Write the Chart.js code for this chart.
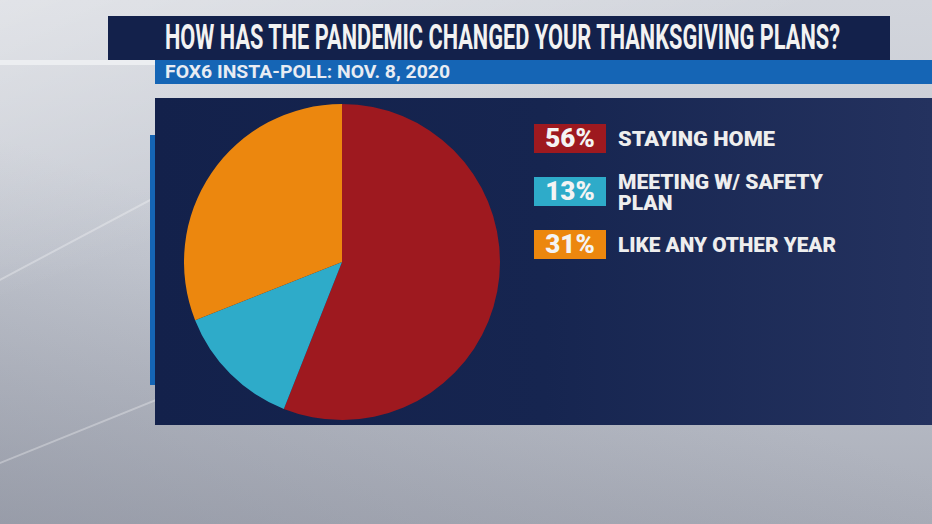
<!DOCTYPE html>
<html>
<head>
<meta charset="utf-8">
<script src="https://cdn.jsdelivr.net/npm/chart.js@4"></script>
<style>
    html, body { margin: 0; padding: 0; }
    body {
        width: 932px; height: 524px; position: relative; overflow: hidden;
        font-family: Roboto, "Liberation Sans", sans-serif;
        background:
            linear-gradient(160deg, rgba(255,255,255,0.35) 0%, rgba(255,255,255,0) 35%),
            linear-gradient(20deg, rgba(120,125,140,0.35) 0%, rgba(120,125,140,0) 45%),
            linear-gradient(180deg, #d2d5dc 0%, #c4c8d1 50%, #a9adb8 100%);
    }
    .stripe { position: absolute; background: rgba(255,255,255,0.3); transform-origin: left top; }
    #titleBar {
        position: absolute; left: 108px; top: 16px; width: 782px; height: 44px;
        background: #13214b;
    }
    #title, #subtitle { position: absolute; white-space: nowrap; transform-origin: left center; }
    #title { color: #f2f2f2; font-weight: 700; font-size: 35px; line-height: 44px; top: 0px; left: 57px; }
    #lightStrip { position: absolute; left: 0; top: 60px; width: 160px; height: 5px; background: #eceef1; }
    #subBar {
        position: absolute; left: 155px; top: 60px; width: 777px; height: 24px;
        background: #1565b5;
    }
    #subtitle { color: #e8ecf3; font-weight: 700; font-size: 19px; line-height: 24px; top: 0px; left: 10px; }
    #sideBar { position: absolute; left: 150px; top: 135px; width: 5px; height: 250px; background: #1565b5; }
    #panel {
        position: absolute; left: 155px; top: 98px; width: 777px; height: 327px;
        background: linear-gradient(90deg, #13214b 0%, #162550 50%, #24325f 100%);
    }
    #pieBox { position: absolute; left: 29px; top: 6px; width: 316px; height: 316px; }
    .item { position: absolute; left: 379px; }
    .box {
        position: absolute; left: 0; top: 0; width: 72px; height: 29px;
        color: #f4f4f4; font-weight: 900; font-size: 26px; line-height: 29px; text-align: center;
    }
    .label {
        position: absolute; left: 84px; color: #eeeeee; font-weight: 900; font-size: 21px;
        line-height: 21px; white-space: nowrap; transform-origin: left top;
    }
</style>
</head>
<body>
<div class="stripe" style="left:-40px;top:300px;width:420px;height:2px;transform:rotate(-28deg)"></div>
<div class="stripe" style="left:-20px;top:470px;width:300px;height:2px;transform:rotate(-22deg)"></div>

<div id="titleBar"><div id="title"></div></div>
<div id="lightStrip"></div>
<div id="subBar"><div id="subtitle"></div></div>
<div id="sideBar"></div>
<div id="panel">
    <div id="pieBox"><canvas id="pie"></canvas></div>
    <div id="legend"></div>
</div>

<script>
const titleText = 'HOW HAS THE PANDEMIC CHANGED YOUR THANKSGIVING PLANS?';
const subtitleText = 'FOX6 INSTA-POLL: NOV. 8, 2020';
const categories = ['STAYING HOME', 'MEETING W/ SAFETY\nPLAN', 'LIKE ANY OTHER YEAR'];
const values = [56, 13, 31];
const colors = ['#9e191f', '#2eabc9', '#ec870e'];

// squeeze text into the width it takes in the graphic
function fitWidth(el, width) {
    const w = el.getBoundingClientRect().width;
    el.style.transform = 'scaleX(' + (width / w) + ')';
}

const title = document.getElementById('title');
title.textContent = titleText;
fitWidth(title, 675);

const subtitle = document.getElementById('subtitle');
subtitle.textContent = subtitleText;
fitWidth(subtitle, 285);

// legend rows
const legend = document.getElementById('legend');
const rowTops = [26, 79, 132];
const labelWidths = [157, 205, 218];
categories.forEach((cat, i) => {
    const item = document.createElement('div');
    item.className = 'item';
    item.style.top = rowTops[i] + 'px';

    const box = document.createElement('div');
    box.className = 'box';
    box.style.background = colors[i];
    box.textContent = values[i] + '%';
    item.appendChild(box);

    const lines = cat.split('\n');
    const label = document.createElement('div');
    label.className = 'label';
    label.style.top = (lines.length > 1 ? -5 : 5) + 'px';
    label.innerHTML = lines.join('<br>');
    item.appendChild(label);

    legend.appendChild(item);
    fitWidth(label, labelWidths[i]);
});

new Chart(document.getElementById('pie').getContext('2d'), {
    type: 'pie',
    data: {
        labels: categories.map(c => c.replace('\n', ' ')),
        datasets: [{
            data: values,
            backgroundColor: colors,
            borderWidth: 0
        }]
    },
    options: {
        responsive: true,
        maintainAspectRatio: false,
        animation: false,
        layout: { padding: 0 },
        plugins: {
            legend: { display: false },
            tooltip: { enabled: false }
        }
    }
});
</script>
</body>
</html>
